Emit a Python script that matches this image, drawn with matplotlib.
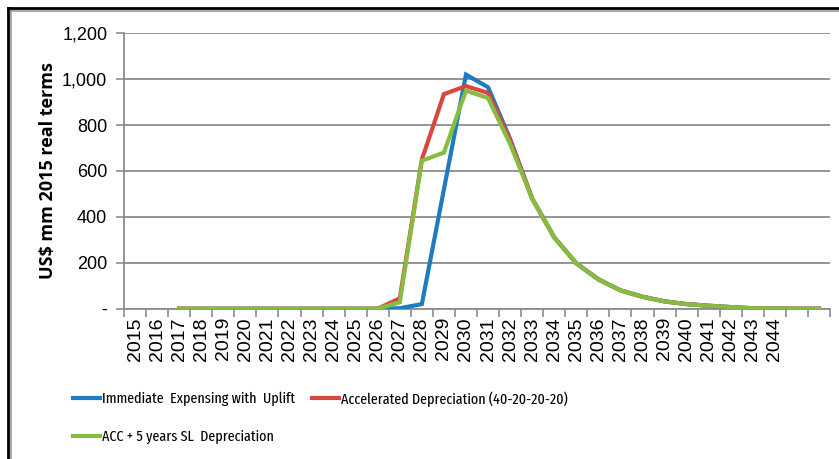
import numpy as np
import matplotlib
matplotlib.use("Agg")
import matplotlib.pyplot as plt
from matplotlib.lines import Line2D
from matplotlib.ticker import FuncFormatter, FixedLocator

# category axis: 2015..2046, only the first 30 years get labels
years = list(range(2015, 2047))
year_labels = [str(y) for y in years[:30]] + ["", ""]

nan = np.nan
immediate = [nan, nan, 0, 0, 0, 0, 0, 0, 0, 0, 0, 0, 2, 20, 520, 1020, 965, 740,
             480, 311, 198, 128, 80, 52, 32, 20, 13, 7, 2, 1, 0, 0]
accelerated = [nan, nan, 0, 0, 0, 0, 0, 0, 0, 0, 0, 0, 45, 650, 935, 970, 940, 735,
               480, 311, 198, 128, 80, 52, 32, 20, 13, 7, 2, 1, 0, 0]
acc_sl = [nan, nan, 0, 0, 0, 0, 0, 0, 0, 0, 0, 0, 28, 645, 680, 950, 918, 718,
          480, 311, 198, 128, 80, 52, 32, 20, 13, 7, 2, 1, 0, 0]

series_names = ["Immediate  Expensing with  Uplift",
                "Accelerated Depreciation (40-20-20-20)",
                "ACC + 5 years SL  Depreciation"]
colors = ["#1f7bc0", "#d9463f", "#86bd40"]

narrow = ["Fira Sans Extra Condensed", "Roboto Condensed", "DejaVu Sans"]
plain = ["Liberation Sans", "DejaVu Sans"]
grid_grey = "#8c8c8c"

W, H = 839, 459
fig = plt.figure(figsize=(W / 100, H / 100), dpi=100)
ax = fig.add_axes([124 / W, 1 - 308.7 / H, (830 - 124) / W, (308.7 - 33.3) / H])

x = np.arange(len(years)) + 0.5
lines = []
for vals, name, c in zip([immediate, accelerated, acc_sl], series_names, colors):
    ln, = ax.plot(x, vals, color=c, lw=3.0, solid_joinstyle="miter", label=name, zorder=3)
    lines.append(ln)

ax.set_xlim(0, len(years))
ax.set_ylim(0, 1200)
ax.set_yticks(np.arange(0, 1201, 200))
ax.yaxis.set_major_formatter(FuncFormatter(lambda v, p: "-" if v == 0 else f"{v:,.0f}"))
ax.grid(axis="y", color=grid_grey, lw=1.3, zorder=1)
ax.set_axisbelow(True)

# tick marks between categories, labels centred in each slot
ax.xaxis.set_major_locator(FixedLocator(np.arange(0, len(years) + 1)))
ax.xaxis.set_minor_locator(FixedLocator(x))
ax.set_xticklabels([], minor=False)
ax.set_xticklabels(year_labels, minor=True, rotation=90, fontsize=14, family=plain)
ax.tick_params(axis="x", which="major", length=6, width=1.2, color=grid_grey, direction="out")
ax.tick_params(axis="x", which="minor", length=0, pad=6)
ax.tick_params(axis="y", length=6, width=1.2, color=grid_grey, direction="out", pad=6)
for lab in ax.get_yticklabels():
    lab.set_fontsize(13)
    lab.set_family(plain)

for s in ["top", "right"]:
    ax.spines[s].set_visible(False)
for s in ["left", "bottom"]:
    ax.spines[s].set_color(grid_grey)
    ax.spines[s].set_linewidth(1.3)

fig.text(48.5 / W, 1 - 171 / H, "US$ mm 2015 real terms", rotation=90, ha="center", va="center",
         fontsize=13, fontweight="bold", family=["Open Sans", "DejaVu Sans"])

# legend below the plot: blue and green stacked on the left, red to the right
leg_kw = dict(loc="center left", frameon=False, borderpad=0, borderaxespad=0,
              handlelength=1.75, handletextpad=0.15, prop={"family": narrow, "size": 11})
leg1 = fig.legend([lines[0], lines[2]], [series_names[0], series_names[2]],
                  bbox_to_anchor=(73 / W, 1 - 418 / H), labelspacing=1.55, **leg_kw)
fig.legend([lines[1]], [series_names[1]], bbox_to_anchor=(312 / W, 1 - 399 / H), **leg_kw)

# chart frame along the top and left edges
fig.add_artist(Line2D([8 / W, 1], [1 - 8 / H, 1 - 8 / H], color="black", lw=2, transform=fig.transFigure))
fig.add_artist(Line2D([8 / W, 8 / W], [1 - 8 / H, 0], color="black", lw=2, transform=fig.transFigure))
fig.add_artist(Line2D([11 / W, 1], [1 - 10.5 / H, 1 - 10.5 / H], color="#a0a0a0", lw=1.3, transform=fig.transFigure))
fig.add_artist(Line2D([11 / W, 11 / W], [1 - 10.5 / H, 0], color="#a0a0a0", lw=1.3, transform=fig.transFigure))

fig.savefig("out.png", dpi=100)
